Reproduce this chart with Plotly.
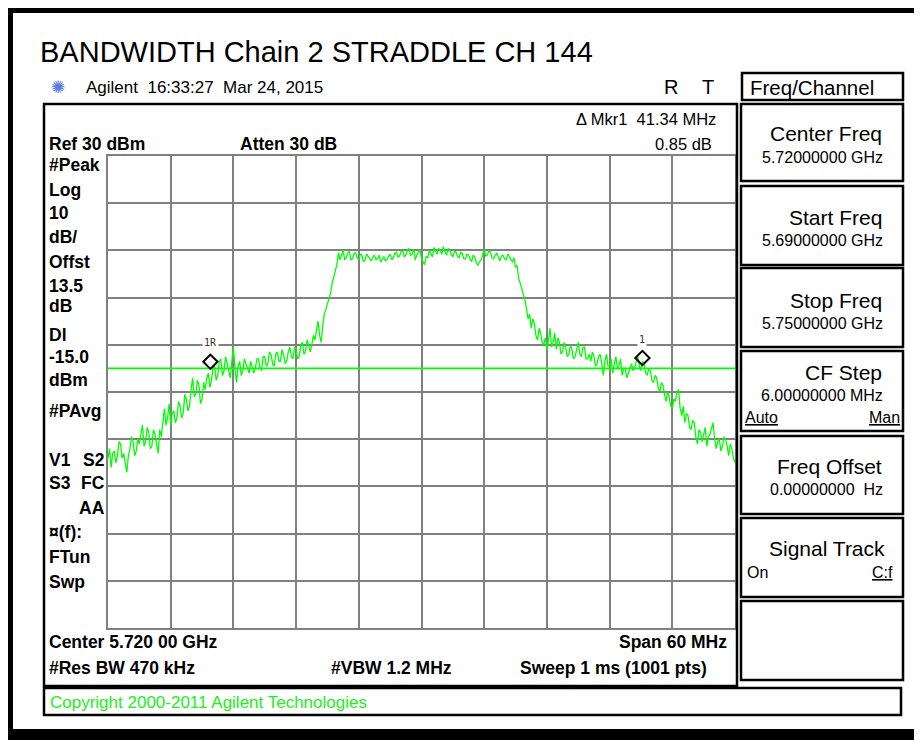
import plotly.graph_objects as go

# ---------------- data ----------------
start_mhz = 5690.0
stop_mhz = 5750.0
step_mhz = 0.15
ref_level = 30
bottom_level = -70
display_line_dbm = [-15.0, -15.0]
display_line_freq = [5690.0, 5750.0]

trace_dbm = [
    -34.0, -32.0, -36.0, -33.0, -32.5, -35.0, -33.5, -30.5, -31.0, -34.0,
    -33.0, -35.5, -37.0, -33.5, -32.0, -29.5, -30.5, -33.5, -32.5, -30.0,
    -31.0, -29.0, -27.0, -31.5, -30.5, -27.5, -28.5, -32.0, -31.5, -28.0,
    -29.0, -31.0, -33.0, -28.0, -29.5, -26.5, -23.5, -27.0, -25.5, -22.5,
    -27.0, -24.5, -24.0, -26.5, -25.5, -22.0, -23.0, -25.5, -24.5, -20.5,
    -21.5, -24.0, -23.0, -19.5, -17.0, -21.0, -20.5, -17.5, -18.5, -22.5,
    -21.5, -18.0, -19.5, -17.0, -16.0, -19.0, -17.5, -15.0, -14.5, -17.5,
    -16.5, -13.5, -13.0, -16.5, -15.5, -12.5, -14.0, -16.0, -17.0, -13.5,
    -10.5, -15.0, -18.0, -14.5, -13.5, -16.5, -15.5, -13.0, -14.0, -15.5,
    -16.0, -13.5, -14.5, -16.0, -15.0, -13.0, -13.0, -15.0, -15.5, -12.5,
    -12.5, -14.5, -14.0, -11.5, -12.0, -14.0, -14.5, -12.0, -11.5, -13.5,
    -13.5, -11.0, -12.0, -14.0, -13.5, -11.5, -10.5, -12.5, -13.0, -10.5,
    -11.0, -13.0, -12.5, -10.0, -9.5, -12.0, -11.5, -9.0, -10.0, -11.5,
    -10.0, -8.0, -9.0, -6.5, -5.0, -8.0, -9.5, -6.0, -3.5, -2.5,
    -1.5, -0.5, 1.0, 3.0, 4.5, 6.0, 7.0, 9.5, 8.0, 9.0,
    10.0, 8.0, 8.5, 9.5, 9.8, 8.0, 8.2, 9.4, 9.5, 8.4,
    8.0, 9.2, 9.0, 7.6, 8.0, 9.2, 8.8, 8.2, 7.8, 8.6,
    9.0, 8.0, 8.2, 9.0, 7.5, 8.2, 8.6, 7.8, 8.0, 8.8,
    9.2, 8.0, 8.4, 9.4, 9.6, 8.6, 8.8, 9.8, 10.0, 8.6,
    9.0, 10.0, 10.4, 9.0, 9.2, 10.2, 8.0, 9.0, 9.6, 10.2,
    8.2, 7.4, 7.0, 8.8, 8.4, 10.0, 9.4, 8.6, 10.6, 9.8,
    9.2, 10.4, 10.0, 9.2, 10.8, 9.6, 9.0, 10.4, 10.0, 9.2,
    8.6, 9.8, 9.6, 8.8, 8.4, 9.6, 9.4, 8.2, 8.2, 9.2,
    9.0, 8.2, 7.6, 9.0, 8.6, 7.4, 6.8, 7.6, 8.0, 9.0,
    10.2, 8.8, 9.0, 10.0, 9.6, 8.4, 8.2, 9.0, 9.4, 8.6,
    7.8, 8.8, 9.0, 8.2, 8.0, 9.2, 8.8, 8.0, 7.6, 8.4,
    6.4, 6.8, 4.0, 3.0, 2.0, 1.0, -0.5, -2.5, -4.5, -3.5,
    -6.5, -4.5, -5.5, -8.0, -9.0, -6.5, -7.5, -9.5, -10.0, -8.5,
    -11.0, -9.0, -6.5, -10.5, -9.5, -7.5, -11.0, -8.5, -9.5, -12.0,
    -11.5, -9.5, -10.5, -12.5, -12.0, -10.0, -11.0, -13.0, -12.5, -11.0,
    -9.5, -12.0, -12.5, -10.5, -10.5, -13.0, -13.0, -12.0, -13.5, -11.5,
    -12.5, -14.5, -14.0, -12.5, -12.0, -14.0, -16.5, -13.5, -12.0, -14.5,
    -14.5, -13.0, -16.0, -14.0, -12.5, -15.0, -14.5, -13.0, -16.5, -15.0,
    -15.0, -17.0, -16.0, -14.5, -14.0, -15.5, -15.0, -13.5, -12.5, -14.5,
    -15.5, -13.5, -14.0, -16.0, -16.5, -15.0, -15.5, -17.5, -18.0, -16.5,
    -17.0, -19.0, -20.0, -18.0, -18.5, -20.5, -22.0, -20.0, -21.0, -23.0,
    -23.5, -21.5, -22.0, -20.0, -19.5, -23.5, -25.0, -23.0, -26.5, -24.5,
    -25.0, -27.5, -28.0, -26.0, -26.5, -29.5, -31.0, -28.0, -28.5, -30.5,
    -29.0, -27.5, -31.5, -29.5, -29.0, -27.5, -26.5, -30.0, -32.0, -30.5,
    -30.0, -32.5, -31.5, -29.5, -30.0, -31.5, -33.5, -31.0, -32.0, -34.0,
    -35.0,
]
freqs = [start_mhz + step_mhz * i for i in range(len(trace_dbm))]

marker_freq = [5699.8, 5741.14]
marker_dbm = [-13.6, -12.8]
marker_names = ["1R", "1"]

# ---------------- geometry helpers (reference-image pixel coords) ----------------
PAGE_W, PAGE_H = 922, 740
OFF = 8                      # browser body margin
W, H = PAGE_W - OFF, PAGE_H - OFF
L, R, T, B = 108, 735, 156, 628


def px(x):
    return (x - L) / (R - L)


def py(y):
    return (B - y) / (B - T)


FONT = "Liberation Sans, Arial, sans-serif"

fig = go.Figure()
fig.add_trace(go.Scatter(x=display_line_freq, y=display_line_dbm, mode="lines",
                         line=dict(color="#00ff00", width=1.6), hoverinfo="skip"))
fig.add_trace(go.Scatter(x=freqs, y=trace_dbm, mode="lines",
                         line=dict(color="#00ff00", width=1.3)))
fig.add_trace(go.Scatter(x=marker_freq, y=marker_dbm, mode="markers",
                         marker=dict(symbol="diamond-open", size=11, color="black",
                                     line=dict(width=2, color="black"))))

shapes = []


def rect(x0, y0, x1, y1, color="black", width=2, fill=None):
    d = dict(type="rect", xref="paper", yref="paper", x0=px(x0), x1=px(x1),
             y0=py(y1), y1=py(y0), line=dict(color=color, width=width), layer="above")
    if fill:
        d["fillcolor"] = fill
    shapes.append(d)


def filled(x0, y0, x1, y1, color="black"):
    shapes.append(dict(type="rect", xref="paper", yref="paper", x0=px(x0), x1=px(x1),
                       y0=py(y1), y1=py(y0), line=dict(width=0), fillcolor=color,
                       layer="above"))


# outer frame
filled(8, 7, 922, 13)
filled(8, 7, 13, 740)
filled(8, 729, 922, 740)

# main instrument panel
rect(44, 104, 737, 686, width=2.5)
# copyright box
rect(44, 688, 901, 715, width=2.5)
# softkeys
rect(742, 73, 903, 100, width=2.5)
for (y0, y1) in [(104, 181), (186, 265), (268, 347), (351, 431), (436, 514), (518, 597), (601, 680)]:
    rect(741, y0, 903, y1, width=2.5)

annotations = []


def txt(text, x, y, size=17, bold=False, color="black", anchor="left", bg=None, family=FONT):
    if bold:
        text = "<b>" + text + "</b>"
    a = dict(x=px(x), y=py(y), xref="paper", yref="paper", text=text, showarrow=False,
             xanchor=anchor, yanchor="middle", font=dict(size=size, color=color, family=family))
    if bg:
        a["bgcolor"] = bg
        a["borderpad"] = 0
    annotations.append(a)


txt("BANDWIDTH Chain 2 STRADDLE CH 144", 38, 52, size=29)
txt("✺", 49, 87, size=17, color="#5a7be0", family="DejaVu Sans")
txt("Agilent  16:33:27  Mar 24, 2015", 84, 87, size=17)
txt("R", 662, 87, size=20)
txt("T", 700, 87, size=20)
txt("Freq/Channel", 748, 87, size=20.5)

# top of the panel
txt("Δ Mkr1  41.34 MHz", 718, 119, size=16.5, anchor="right")
txt("Ref 30 dBm", 47, 144, size=17.5, bold=True)
txt("Atten 30 dB", 238, 144, size=17.5, bold=True)
txt("0.85 dB", 714, 144, size=16.5, anchor="right")

left_labels = [("#Peak", 165), ("Log", 190), ("10", 213), ("dB/", 237), ("Offst", 262),
               ("13.5", 286), ("dB", 306), ("Dl", 335), ("-15.0", 357), ("dBm", 380),
               ("#PAvg", 411), ("V1", 460), ("S3", 483), ("¤(f):", 532), ("FTun", 557),
               ("Swp", 582)]
for s, y in left_labels:
    txt(s, 47, y, size=17.5, bold=True)
txt("S2", 107, 460, size=17.5, bold=True, anchor="right")
txt("FC", 107, 483, size=17.5, bold=True, anchor="right")
txt("AA", 107, 508, size=17.5, bold=True, anchor="right")

# bottom of panel
txt("Center 5.720 00 GHz", 47, 642, size=17.5, bold=True)
txt("Span 60 MHz", 729, 642, size=17.5, bold=True, anchor="right")
txt("#Res BW 470 kHz", 47, 668, size=17.5, bold=True)
txt("#VBW 1.2 MHz", 329, 668, size=17.5, bold=True)
txt("Sweep 1 ms (1001 pts)", 709, 668, size=17.5, bold=True, anchor="right")

# copyright
txt("Copyright 2000-2011 Agilent Technologies", 48, 702, size=17, color="#22ee22")

# softkeys
soft = [("Center Freq", "5.72000000 GHz", 134, 157),
        ("Start Freq", "5.69000000 GHz", 217, 240),
        ("Stop Freq", "5.75000000 GHz", 300, 323),
        ("CF Step", "6.00000000 MHz", 372, 395),
        ("Freq Offset", "0.00000000  Hz", 466, 489)]
for lab, val, y1, y2 in soft:
    txt(lab, 884, y1, size=21, anchor="right")
    txt(val, 885, y2, size=16, anchor="right")
txt("<u>Auto</u>", 744, 417, size=16, bg="white")
txt("<u>Man</u>", 901, 417, size=16, anchor="right", bg="white")
txt("Signal Track", 887, 548, size=21, anchor="right")
txt("On", 745, 572, size=16)
txt("<u>C:f</u>", 895, 572, size=16, anchor="right")

# marker labels
for f, v, n in zip(marker_freq, marker_dbm, marker_names):
    annotations.append(dict(x=f, y=v, xref="x", yref="y", text=n, showarrow=False,
                            yshift=19, bgcolor="white", borderpad=1,
                            font=dict(size=10, color="#4a3020", family="DejaVu Sans Mono")))

fig.update_layout(
    width=W, height=H,
    margin=dict(l=L - OFF, r=PAGE_W - R, t=T - OFF, b=PAGE_H - B, pad=0),
    paper_bgcolor="white", plot_bgcolor="white",
    showlegend=False,
    shapes=shapes, annotations=annotations,
    xaxis=dict(range=[start_mhz, stop_mhz], tick0=start_mhz, dtick=6, showticklabels=False,
               showgrid=True, gridcolor="#808080", gridwidth=2, zeroline=False,
               showline=True, mirror=True, linecolor="#808080", linewidth=2, ticks=""),
    yaxis=dict(range=[bottom_level, ref_level], tick0=bottom_level, dtick=10, showticklabels=False,
               showgrid=True, gridcolor="#808080", gridwidth=2, zeroline=False,
               showline=True, mirror=True, linecolor="#808080", linewidth=2, ticks=""),
)

fig.write_html("out.html")
